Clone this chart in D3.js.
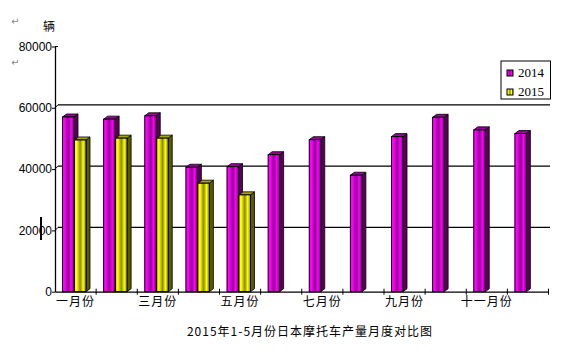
<!DOCTYPE html>
<html>
<head>
<meta charset="utf-8">
<script src="https://cdn.jsdelivr.net/npm/d3@7"></script>
<style>
  body { margin: 0; background: #fff; }
  svg { display: block; }
</style>
</head>
<body>
<div id="chart"></div>
<script>
// chart data
const months = ['一月份', '二月份', '三月份', '四月份', '五月份', '六月份',
                '七月份', '八月份', '九月份', '十月份', '十一月份', '十二月份'];
const series = ['2014', '2015'];
const values2014 = [57000, 56300, 57400, 40600, 40800, 44700, 49600, 38000, 50600, 56900, 52800, 51600];
const values2015 = [49500, 50100, 50100, 35400, 31600];
const yTicks = [0, 20000, 40000, 60000, 80000];
const gridTicks = [20000, 40000, 60000];
const chartTitle = '2015年1-5月份日本摩托车产量月度对比图';
const unitLabel = '辆';

const width = 583, height = 363;
const depthX = 4, depthY = 3;   // fake 3d depth of the bars

const svg = d3.select('#chart').append('svg')
    .attr('width', width)
    .attr('height', height);

const defs = svg.append('defs');
// horizontal shading of bar fronts
function shade(id, light, dark) {
    const g = defs.append('linearGradient').attr('id', id)
        .attr('x1', '0%').attr('x2', '100%').attr('y1', '0%').attr('y2', '0%');
    [[0, light], [0.2, light], [0.5, dark], [0.75, light], [1, dark]].forEach(s => {
        g.append('stop').attr('offset', s[0]).attr('stop-color', s[1]);
    });
}
shade('g2014', '#ff00ff', '#8a008a');
shade('g2015', '#ffff00', '#8a8a00');
const colors = {
    '2014': { front: 'url(#g2014)', side: '#5a005a', top: '#9a009a' },
    '2015': { front: 'url(#g2015)', side: '#5a5a00', top: '#a6a600' }
};

// scales
const x = d3.scaleBand().domain(months).range([55, 548.5]).paddingInner(0);
const xs = d3.scaleBand().domain(series).range([7.5, 31.5]);
const y = d3.scaleLinear().domain([0, 80000]).range([291.7, 46.5]);

// back wall grid lines
svg.append('g').selectAll('g')
    .data(gridTicks)
    .enter()
    .append('g')
    .each(function (v) {
        const g = d3.select(this);
        g.append('line')
            .attr('x1', 55 + depthX - 1).attr('x2', 550)
            .attr('y1', y(v) - depthY).attr('y2', y(v) - depthY)
            .attr('stroke', '#000').attr('stroke-width', 1.3);
        g.append('line')
            .attr('x1', 55).attr('x2', 55 + depthX - 1)
            .attr('y1', y(v)).attr('y2', y(v) - depthY)
            .attr('stroke', '#000').attr('stroke-width', 1);
    });

// bars
const barData = [];
months.forEach((m, i) => {
    barData.push({ month: m, s: '2014', v: values2014[i] });
    if (values2015[i] !== undefined) barData.push({ month: m, s: '2015', v: values2015[i] });
});

const barW = 11.5;
const bars = svg.append('g').selectAll('g')
    .data(barData)
    .enter()
    .append('g');

bars.each(function (d) {
    const g = d3.select(this);
    const x0 = x(d.month) + xs(d.s);
    const y0 = y(d.v);
    const y1 = y(0);
    // side face
    g.append('path')
        .attr('d', `M${x0 + barW},${y0} L${x0 + barW + depthX},${y0 - depthY} L${x0 + barW + depthX},${y1 - depthY} L${x0 + barW},${y1} Z`)
        .attr('fill', colors[d.s].side)
        .attr('stroke', '#000').attr('stroke-width', 0.8);
    // top face
    g.append('path')
        .attr('d', `M${x0},${y0} L${x0 + depthX},${y0 - depthY} L${x0 + barW + depthX},${y0 - depthY} L${x0 + barW},${y0} Z`)
        .attr('fill', colors[d.s].top)
        .attr('stroke', '#000').attr('stroke-width', 0.8);
    // front face
    g.append('rect')
        .attr('x', x0).attr('y', y0)
        .attr('width', barW).attr('height', y1 - y0)
        .attr('fill', colors[d.s].front)
        .attr('stroke', '#000').attr('stroke-width', 1);
});

// y axis
const yAxis = svg.append('g')
    .attr('transform', 'translate(55,0)')
    .call(d3.axisLeft(y).tickValues(yTicks).tickSize(3).tickSizeOuter(0).tickFormat(d3.format('d')));
yAxis.select('.domain').attr('stroke-width', 1.3);
yAxis.selectAll('text')
    .attr('x', -3)
    .style('font-family', '"Liberation Sans", Arial, sans-serif')
    .style('font-size', '12px')
    .attr('fill', '#000');
// little top tick pointing into the plot
svg.append('line')
    .attr('x1', 55).attr('x2', 58)
    .attr('y1', y(80000)).attr('y2', y(80000))
    .attr('stroke', '#000');

// x axis
const xAxis = svg.append('g')
    .attr('transform', `translate(0,${y(0)})`)
    .call(d3.axisBottom(x).tickSize(0).tickPadding(6)
        .tickFormat((d, i) => i % 2 === 0 ? d : ''));
xAxis.select('.domain').attr('stroke', '#000').attr('stroke-width', 1.3);
xAxis.selectAll('text')
    .style('font-family', '"Noto Sans CJK SC", sans-serif')
    .style('font-size', '12px')
    .style('letter-spacing', '1px')
    .attr('fill', '#000');

// ticks between categories
svg.append('g').selectAll('line')
    .data(months)
    .enter()
    .append('line')
    .attr('x1', d => x(d) + x.bandwidth())
    .attr('x2', d => x(d) + x.bandwidth())
    .attr('y1', y(0) - 3).attr('y2', y(0) + 3)
    .attr('stroke', '#000');

// legend
const legend = svg.append('g').attr('transform', 'translate(501,61)');
legend.append('rect')
    .attr('width', 49.5).attr('height', 38)
    .attr('fill', '#fff').attr('stroke', '#000');
series.forEach((s, i) => {
    legend.append('rect')
        .attr('x', 6).attr('y', 9 + i * 19)
        .attr('width', 6).attr('height', 6)
        .attr('fill', colors[s].front)
        .attr('stroke', '#000');
    legend.append('text')
        .attr('x', 17).attr('y', 16 + i * 19)
        .style('font-family', '"Liberation Serif", serif')
        .style('font-size', '13px')
        .text(s);
});

// unit label and stray marks from the source document
svg.append('text')
    .attr('x', 43).attr('y', 31)
    .style('font-family', '"Noto Sans CJK SC", sans-serif')
    .style('font-size', '12px')
    .text(unitLabel);
[25, 66].forEach(yy => {
    svg.append('text')
        .attr('x', 11).attr('y', yy)
        .style('font-family', '"DejaVu Sans", sans-serif')
        .style('font-size', '10px')
        .attr('fill', '#888')
        .text('↵');
});
svg.append('line')
    .attr('x1', 41).attr('x2', 41)
    .attr('y1', 217).attr('y2', 240)
    .attr('stroke', '#000').attr('stroke-width', 2);

// title
svg.append('text')
    .attr('x', 310).attr('y', 336)
    .attr('text-anchor', 'middle')
    .style('font-family', '"Noto Sans CJK SC", sans-serif')
    .style('font-size', '12px')
    .style('letter-spacing', '1px')
    .text(chartTitle);
</script>
</body>
</html>
